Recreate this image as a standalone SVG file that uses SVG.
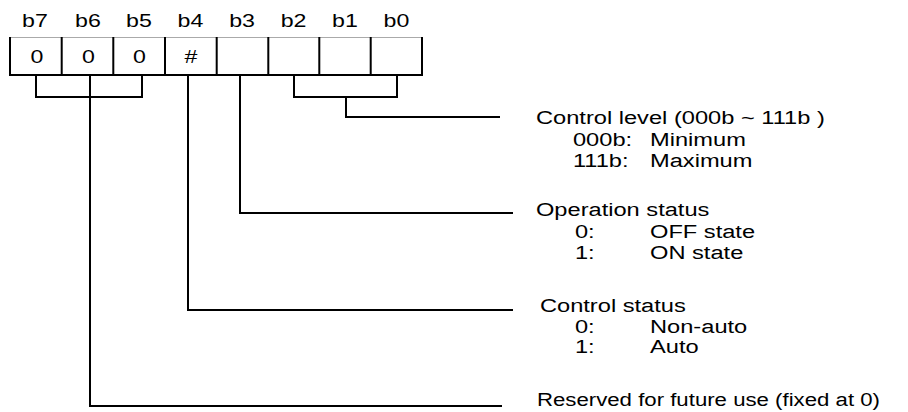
<svg xmlns="http://www.w3.org/2000/svg" width="908" height="412" viewBox="0 0 908 412">
<style>
.t{font-family:"Liberation Sans",Arial,sans-serif;font-size:19px;fill:#000}
.m{text-anchor:middle}
.c{stroke:#000;stroke-width:2;fill:none}
.top{stroke:#aaa;stroke-width:1;fill:none}
</style>
<rect width="908" height="412" fill="#fff"/>
<g id="register">
<line class="top" x1="10" y1="37.5" x2="422" y2="37.5"/>
<path class="c" d="M10 37V75H422V37M61.7 37V75M113.3 37V75M165 37V75M216.7 37V75M268.3 37V75M319.3 37V75M370.7 37V75"/>
<g transform="scale(1.22,1)">
<text class="t m" x="28.7" y="27">b7</text>
<text class="t m" x="72.1" y="27">b6</text>
<text class="t m" x="113.9" y="27">b5</text>
<text class="t m" x="156.1" y="27">b4</text>
<text class="t m" x="198.4" y="27">b3</text>
<text class="t m" x="240.6" y="27">b2</text>
<text class="t m" x="282.8" y="27">b1</text>
<text class="t m" x="325" y="27">b0</text>
<text class="t m" x="30.3" y="63.5">0</text>
<text class="t m" x="72.5" y="63.5">0</text>
<text class="t m" x="114.3" y="63.5">0</text>
<text class="t m" x="156.6" y="63.5">#</text>
</g>
</g>
<g id="connectors">
<path class="c" d="M36 75V97H142V75M90 75V406H502"/>
<path class="c" d="M188 75V310H513"/>
<path class="c" d="M240 75V213H513"/>
<path class="c" d="M294 75V97H397V75M346 97V117H500"/>
</g>
<g transform="scale(1.245,1)">
<g id="control-level">
<text class="t" x="430.5" y="124">Control level (000b ~ 111b )</text>
<text class="t" x="460.2" y="146">000b:</text>
<text class="t" x="522.1" y="146">Minimum</text>
<text class="t" x="460.2" y="167">111b:</text>
<text class="t" x="522.1" y="167">Maximum</text>
</g>
<g id="operation-status">
<text class="t" x="430.5" y="216">Operation status</text>
<text class="t" x="461.8" y="238">0:</text>
<text class="t" x="522.1" y="238">OFF state</text>
<text class="t" x="461.8" y="259">1:</text>
<text class="t" x="522.1" y="259">ON state</text>
</g>
<g id="control-status">
<text class="t" x="433.7" y="312">Control status</text>
<text class="t" x="461.8" y="333">0:</text>
<text class="t" x="522.1" y="333">Non-auto</text>
<text class="t" x="461.8" y="353">1:</text>
<text class="t" x="522.1" y="353">Auto</text>
</g>
<g id="reserved">
<text class="t" x="431.3" y="406" textLength="275.5" lengthAdjust="spacingAndGlyphs">Reserved for future use (fixed at 0)</text>
</g>
</g>
</svg>
